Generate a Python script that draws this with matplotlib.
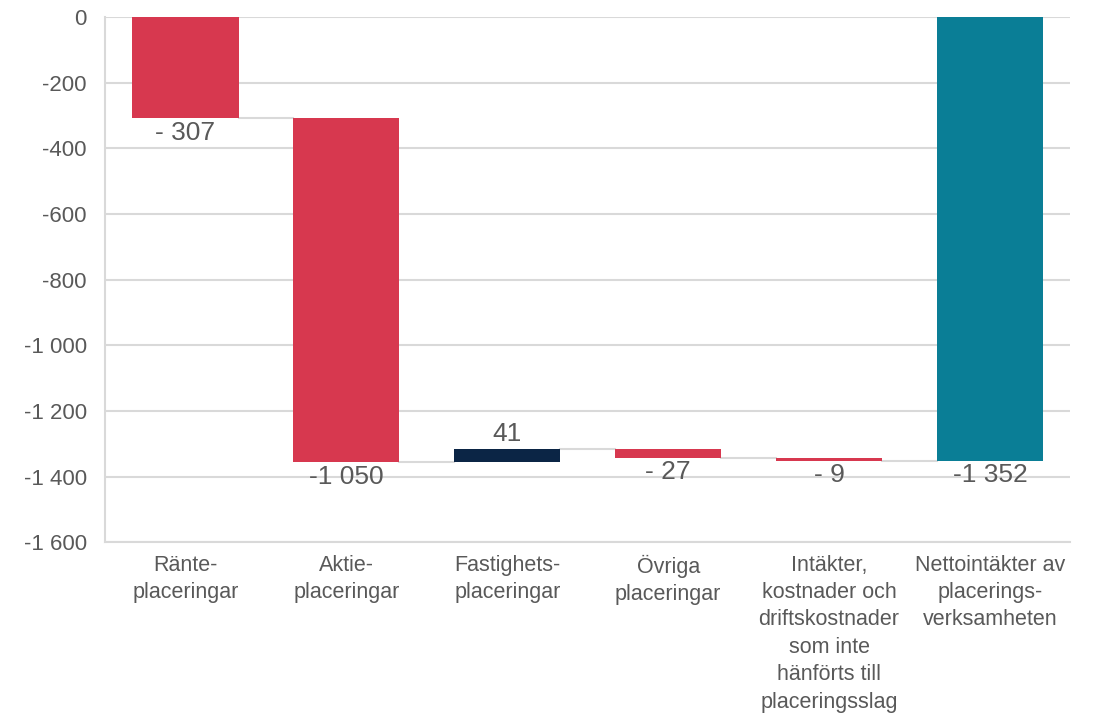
import matplotlib.pyplot as plt
import numpy as np

plt.rcParams['font.family'] = ['Liberation Sans', 'DejaVu Sans']

# data
categories = ["Ränte-\nplaceringar", "Aktie-\nplaceringar", "Fastighets-\nplaceringar",
              "Övriga\nplaceringar",
              "Intäkter,\nkostnader och\ndriftskostnader\nsom inte\nhänförts till\nplaceringsslag",
              "Nettointäkter av\nplacerings-\nverksamheten"]
changes = [-307, -1050, 41, -27, -9]
total = sum(changes)  # -1352

red = "#D7384F"
navy = "#0B2545"
teal = "#0A7E96"
grid_col = "#D9D9D9"
text_col = "#595959"


def fmt(v):
    s = f"{abs(v):,}".replace(",", " ")
    if v >= 0:
        return s
    return ("-" if abs(v) >= 1000 else "- ") + s


fig = plt.figure(figsize=(11.2, 7.19), dpi=100)
ax = fig.add_axes([0.09375, 0.246, 0.862, 0.73])

x = np.arange(len(categories))
w = 0.66

# waterfall steps
starts = np.concatenate([[0], np.cumsum(changes)[:-1]])
ends = np.cumsum(changes)
for i, (s, e, v) in enumerate(zip(starts, ends, changes)):
    col = red if v < 0 else navy
    ax.bar(x[i], e - s, bottom=s, width=w, color=col, zorder=3)
    if v < 0:
        ax.text(x[i], min(s, e) - 8, fmt(v), ha="center", va="top",
                fontsize=19, color=text_col, zorder=4)
    else:
        ax.text(x[i], max(s, e) + 8, fmt(v), ha="center", va="bottom",
                fontsize=19, color=text_col, zorder=4)

# total bar
ax.bar(x[-1], total, width=w, color=teal, zorder=3)
ax.text(x[-1], total - 8, fmt(total), ha="center", va="top",
        fontsize=19, color=text_col, zorder=4)

# connectors
levels = list(ends)
for i, lvl in enumerate(levels):
    ax.plot([x[i] + w / 2, x[i + 1] - w / 2], [lvl, lvl], color=grid_col,
            lw=1.5, zorder=2)

ax.set_xlim(-0.5, len(categories) - 0.5)
ax.set_ylim(-1600, 0)
ax.set_yticks(np.arange(-1600, 1, 200))
ax.set_yticklabels([fmt(t).replace("- ", "-") for t in np.arange(-1600, 1, 200)],
                   fontsize=16, color=text_col)
ax.set_xticks(x)
ax.set_xticklabels(categories, fontsize=15.5, color=text_col, linespacing=1.4,
                   va="top")
ax.tick_params(axis="both", length=0)
ax.tick_params(axis="y", pad=13)
ax.tick_params(axis="x", pad=9)

ax.grid(axis="y", color=grid_col, lw=1.5, zorder=0)
for sp in ["top", "right"]:
    ax.spines[sp].set_visible(False)
ax.spines["left"].set_color(grid_col)
ax.spines["bottom"].set_color(grid_col)
ax.spines["left"].set_linewidth(1.5)
ax.spines["bottom"].set_linewidth(1.5)

fig.savefig("out.png", dpi=100)
